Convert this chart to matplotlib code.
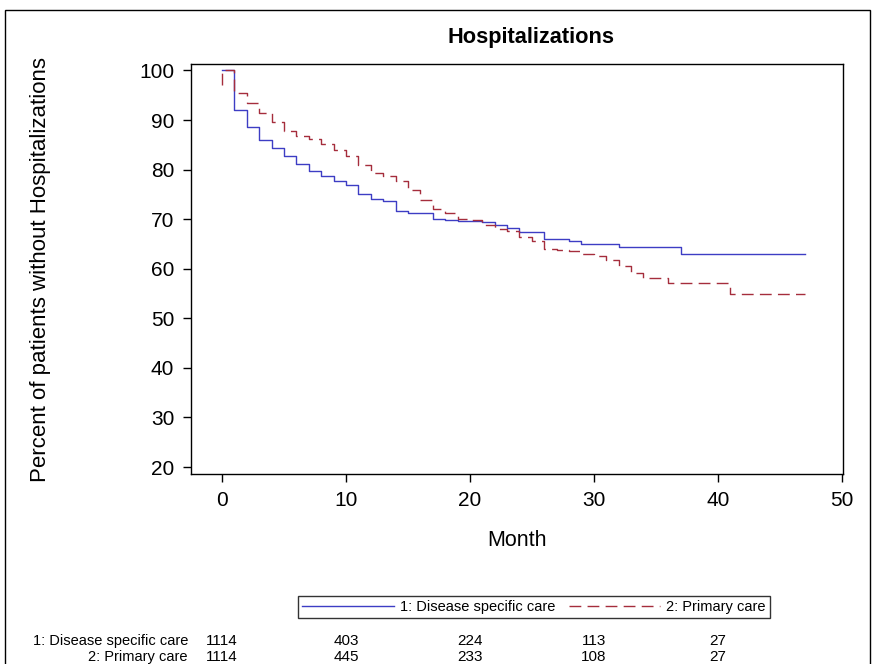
import matplotlib
matplotlib.use('Agg')
import matplotlib.pyplot as plt
import matplotlib.transforms as mtransforms
from matplotlib.patches import Rectangle

plt.rcParams['font.family'] = ['Liberation Sans', 'DejaVu Sans']

# Kaplan-Meier steps (month, percent after the step)
months_dsc = [0, 1, 2, 3, 4, 5, 6, 7, 8, 9, 10, 11, 12, 13, 14, 15, 17, 18, 19,
              21, 22, 23, 24, 26, 28, 29, 32, 37, 47]
surv_dsc = [100, 92.1, 88.5, 85.9, 84.3, 82.7, 81.2, 79.8, 78.7, 77.7, 76.8, 75.1,
            74.1, 73.7, 71.6, 71.3, 70.1, 69.9, 69.7, 69.5, 68.9, 68.3, 67.5, 66.1,
            65.5, 64.9, 64.4, 63.0, 63.0]

months_pc = [0, 0, 1, 2, 3, 4, 5, 6, 7, 8, 9, 10, 11, 12, 13, 14, 15, 16, 17, 18,
             19, 20, 21, 22, 23, 24, 25, 26, 27, 28, 29, 30, 31, 32, 33, 34, 36, 41, 47]
surv_pc = [97.0, 100, 95.4, 93.5, 91.5, 89.7, 87.8, 86.7, 86.1, 85.2, 83.9, 82.7,
           81.0, 79.4, 78.8, 77.8, 75.8, 73.8, 72.1, 71.3, 70.1, 69.8, 68.9, 68.1,
           67.7, 66.4, 65.5, 64.0, 63.7, 63.5, 63.0, 62.5, 61.8, 60.5, 59.1, 58.2,
           57.1, 55.0, 55.0]

# numbers at risk
risk_months = [0, 10, 20, 30, 40]
risk_dsc = [1114, 403, 224, 113, 27]
risk_pc = [1114, 445, 233, 108, 27]

lab_dsc = '1: Disease specific care'
lab_pc = '2: Primary care'
blue = '#3D3DC4'
red = '#A52D3C'

W, H = 874, 664
fig = plt.figure(figsize=(W / 100, H / 100), dpi=100)
ax = fig.add_axes([191 / W, 1 - 474 / H, 652 / W, 410 / H])

ax.step(months_dsc, surv_dsc, where='post', color=blue, lw=1.0, label=lab_dsc)
ax.step(months_pc, surv_pc, where='post', color=red, lw=1.0,
        ls=(0, (8.5, 4.5)), label=lab_pc)

ax.set_xlim(-2.5, 50.1)
ax.set_ylim(18.6, 101.3)
ax.set_xticks(range(0, 51, 10))
ax.set_yticks(range(20, 101, 10))
ax.tick_params(labelsize=15, length=6, width=1, direction='out', pad=6)
for s in ax.spines.values():
    s.set_linewidth(1.0)

ax.set_xlabel('Month', fontsize=15.5, labelpad=15)
ax.set_ylabel('Percent of patients without Hospitalizations', fontsize=16)
ax.yaxis.set_label_coords(-0.215, 0.5)

fig.text(531 / W, 1 - 38 / H, 'Hospitalizations', ha='center', va='center',
         fontsize=15.7, fontweight='bold')

fig.legend(loc='center', bbox_to_anchor=(534 / W, 1 - 607 / H), ncol=2,
           fontsize=10.5, frameon=True, fancybox=False, edgecolor='black',
           handlelength=6.3, columnspacing=0.9, borderpad=0.3,
           handletextpad=0.4)
leg = fig.legends[0]
leg.get_frame().set_linewidth(1.0)

tr = mtransforms.blended_transform_factory(ax.transData, fig.transFigure)
for row_y, lab, vals in [(641, lab_dsc, risk_dsc), (657, lab_pc, risk_pc)]:
    fy = 1 - row_y / H
    fig.text(188 / W, fy, lab, ha='right', va='center', fontsize=10.5)
    for m, v in zip(risk_months, vals):
        ax.text(m, fy, str(v), transform=tr, ha='center', va='center',
                fontsize=11, clip_on=False)

fig.patches.append(Rectangle((5 / W, -0.1), 865 / W, 1.1 - 10 / H,
                             transform=fig.transFigure, fill=False,
                             edgecolor='black', lw=1.0))

fig.savefig('out.png', dpi=100)
